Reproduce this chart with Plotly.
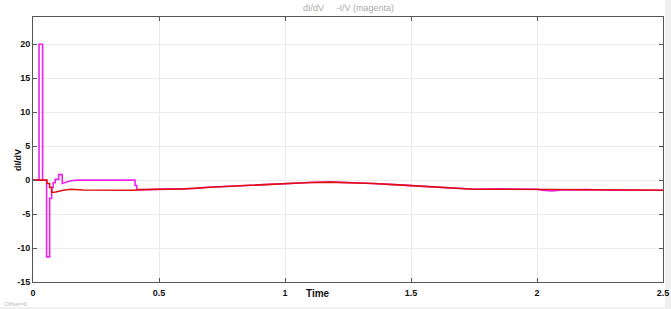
import plotly.graph_objects as go

# ---- data ----
t_mag = [0, 0.024, 0.024, 0.038, 0.038, 0.054, 0.054, 0.066, 0.066, 0.074, 0.074, 0.080, 0.080,
         0.088, 0.088, 0.102, 0.102, 0.116, 0.116, 0.13, 0.15, 0.175, 0.405, 0.405, 0.412, 0.412,
         0.42, 0.5, 0.6, 0.62, 0.64, 0.7, 0.8, 0.9, 1.0, 1.1, 1.18, 1.25, 1.35, 1.45, 1.55, 1.65,
         1.75, 1.85, 2.0, 2.02, 2.06, 2.1, 2.2, 2.3, 2.4, 2.5]
v_mag = [0, 0, 20, 20, 0, 0, -11.3, -11.3, -2.7, -2.7, -1.1, -1.1, -0.4,
         -0.4, 0.1, 0.1, 0.8, 0.8, -0.5, -0.35, -0.1, 0, 0, -0.8, -0.8, -1.4,
         -1.45, -1.35, -1.3, -1.2, -1.25, -1.05, -0.85, -0.65, -0.5, -0.35, -0.28, -0.35, -0.5,
         -0.7, -0.95, -1.2, -1.35, -1.3, -1.35, -1.5, -1.6, -1.45, -1.4, -1.5, -1.45, -1.5]

t_red = [0, 0.055, 0.055, 0.066, 0.066, 0.074, 0.074, 0.09, 0.12, 0.15, 0.2, 0.27, 0.3, 0.4,
         0.42, 0.5, 0.6, 0.7, 0.8, 0.9, 1.0, 1.1, 1.18, 1.25, 1.35, 1.45, 1.55, 1.65, 1.75,
         1.85, 2.0, 2.1, 2.2, 2.3, 2.4, 2.5]
v_red = [0, 0, -0.5, -0.5, -1.1, -1.1, -1.8, -1.75, -1.5, -1.35, -1.45, -1.5, -1.5, -1.5,
         -1.4, -1.35, -1.3, -1.05, -0.85, -0.65, -0.5, -0.35, -0.3, -0.35, -0.5, -0.7, -0.95,
         -1.2, -1.35, -1.35, -1.35, -1.4, -1.4, -1.45, -1.45, -1.5]

x_ticks = [0, 0.5, 1, 1.5, 2, 2.5]
x_tick_labels = ["0", "0.5", "1", "1.5", "2", "2.5"]
y_ticks = [-15, -10, -5, 0, 5, 10, 15, 20]
y_tick_labels = ["-15", "-10", "-5", "0", "5", "10", "15", "20"]

fig = go.Figure()
fig.add_trace(go.Scatter(x=t_mag, y=v_mag, mode="lines",
                         line=dict(color="#ee22ee", width=1.6), showlegend=False))
fig.add_trace(go.Scatter(x=t_red, y=v_red, mode="lines",
                         line=dict(color="#e01010", width=1.6), showlegend=False))

axis_common = dict(showline=True, linecolor="#555555", linewidth=1, mirror="ticks",
                   ticks="inside", ticklen=4, tickcolor="#555555", automargin=False,
                   showgrid=True, gridcolor="#ebebeb", gridwidth=1, zeroline=False,
                   tickfont=dict(family="Liberation Sans, Arial", size=9, color="#111111"))

fig.update_layout(
    width=671, height=309,
    margin=dict(l=33, r=8, t=17, b=27),
    paper_bgcolor="white", plot_bgcolor="white",
    xaxis=dict(range=[0, 2.5], tickvals=x_ticks, ticktext=[f"<b>{s}</b>" for s in x_tick_labels],
               ticklabelstandoff=2, **axis_common),
    yaxis=dict(range=[-15, 24], tickvals=y_ticks, ticktext=[f"<b>{s}</b>" for s in y_tick_labels],
               **axis_common),
    annotations=[
        dict(text="dI/dV     -I/V (magenta)", xref="paper", yref="paper", x=0.5, y=1,
             yshift=2, xanchor="center", yanchor="bottom", showarrow=False,
             font=dict(family="Liberation Sans, Arial", size=9, color="#aaaaaa")),
        dict(text="<b>Time</b>", xref="paper", yref="paper", x=0.453, y=0, yshift=-4,
             xanchor="center", yanchor="top", showarrow=False,
             font=dict(family="Liberation Sans, Arial", size=10, color="#111111")),
        dict(text="<b>dI/dV</b>", xref="paper", yref="paper", x=-0.024, y=0.46,
             xanchor="center", yanchor="middle", textangle=-90, showarrow=False,
             font=dict(family="Liberation Sans, Arial", size=9, color="#111111")),
        dict(text="Offset=0", xref="paper", yref="paper", x=-0.049, y=0, yshift=-17,
             xanchor="left", yanchor="top", showarrow=False,
             font=dict(family="Liberation Sans, Arial", size=6, color="#bbbbbb")),
    ],
    shapes=[
        dict(type="rect", xref="paper", yref="paper", x0=-0.06, x1=1.02, y0=-0.094, y1=-0.12,
             fillcolor="#f0f0f0", line=dict(width=0), layer="below"),
        dict(type="rect", xref="paper", yref="paper", x0=1.003, x1=1.02, y0=-0.12, y1=1.1,
             fillcolor="#f0f0f0", line=dict(width=0), layer="below"),
    ],
)

fig.write_html("out.html")
